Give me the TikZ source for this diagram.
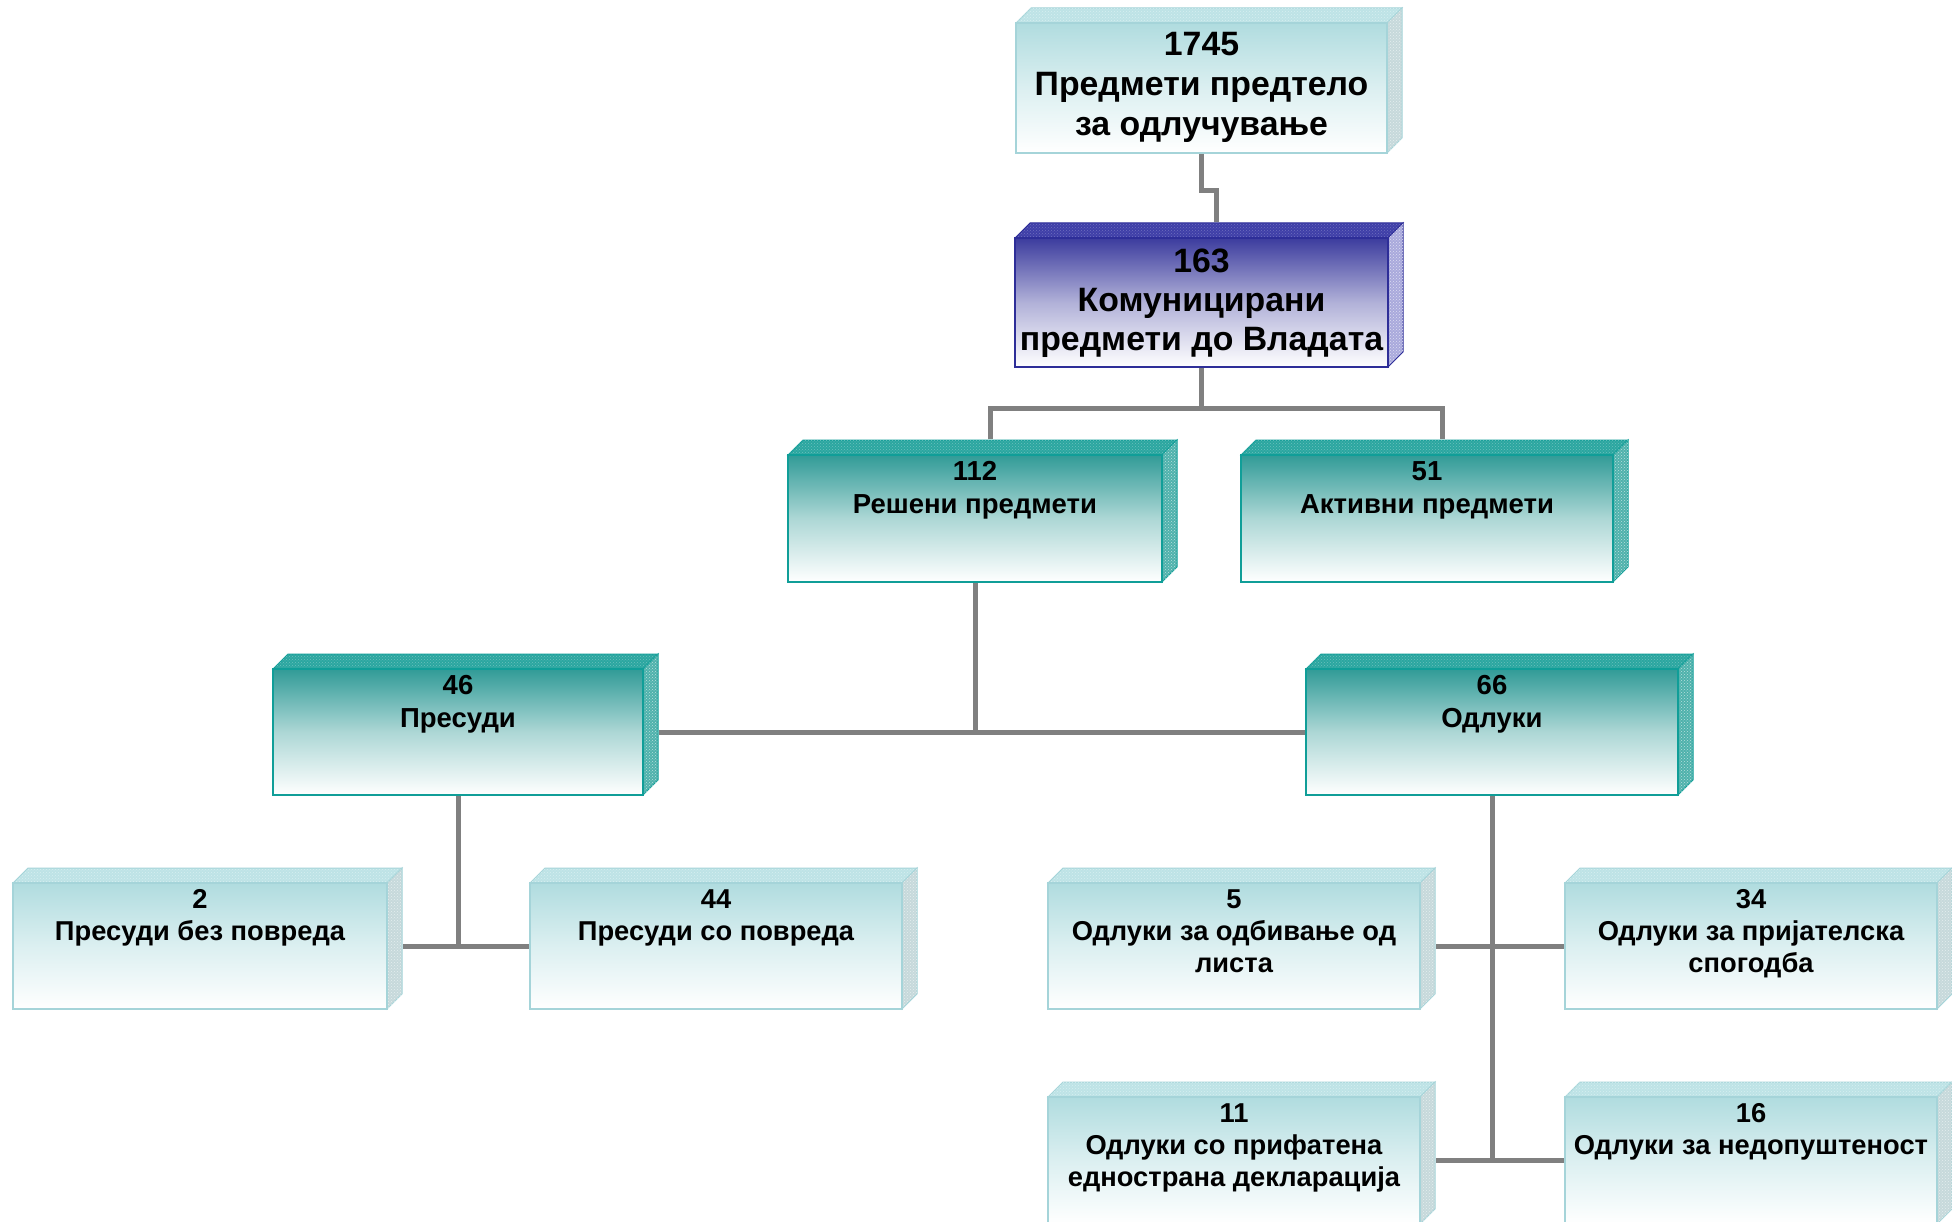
\documentclass[tikz,border=0pt]{standalone}
\usepackage{fontspec}
\setmainfont{Liberation Sans}
\usetikzlibrary{patterns,fit,calc}
\definecolor{lightC}{HTML}{B0DCDF}
\definecolor{lightB}{HTML}{A5D4D9}
\definecolor{lightT}{HTML}{BDE3E6}
\definecolor{lightS}{HTML}{C6D9DB}
\definecolor{blueC}{HTML}{3C3C9E}
\definecolor{blueB}{HTML}{2E2E98}
\definecolor{blueT}{HTML}{3F3FA8}
\definecolor{blueS}{HTML}{A9A9DC}
\definecolor{tealC}{HTML}{319B97}
\definecolor{tealB}{HTML}{109E98}
\definecolor{tealT}{HTML}{2BA6A0}
\definecolor{tealS}{HTML}{4FB2AC}
\definecolor{connC}{HTML}{808080}
\tikzset{
  lightfront/.style={draw=lightB, line width=2pt, top color=lightC, bottom color=white, middle color=lightC!45!white},
  lighttop/.style={fill=lightT, draw=lightB, line width=1pt, postaction={pattern=crosshatch dots, pattern color=lightT!60!white}},
  lightside/.style={fill=lightS, draw=lightB, line width=1pt, postaction={pattern=crosshatch dots, pattern color=lightS!45!white}},
  bluefront/.style={draw=blueB, line width=2pt, top color=blueC, bottom color=white, middle color=blueC!40!white},
  bluetop/.style={fill=blueT, draw=blueB, line width=1pt, postaction={pattern=crosshatch dots, pattern color=blueT!75!white}},
  blueside/.style={fill=blueS, draw=blueB, line width=1pt, postaction={pattern=crosshatch dots, pattern color=blueS!40!white}},
  tealfront/.style={draw=tealB, line width=2pt, top color=tealC, bottom color=white, middle color=tealC!40!white},
  tealtop/.style={fill=tealT, draw=tealB, line width=1pt, postaction={pattern=crosshatch dots, pattern color=tealT!70!white}},
  tealside/.style={fill=tealS, draw=tealB, line width=1pt, postaction={pattern=crosshatch dots, pattern color=tealS!40!white}},
  conn/.style={draw=connC, line width=5pt},
  boxtxt/.style={align=center, inner sep=0pt, anchor=north},
  toptxt/.style={boxtxt, font=\fontsize{33.8}{40}\selectfont\bfseries},
  midtxt/.style={boxtxt, font=\fontsize{33.8}{39}\selectfont\bfseries},
  tealtxt/.style={boxtxt, font=\fontsize{27.5}{33}\selectfont\bfseries},
  lowtxt/.style={boxtxt, font=\fontsize{27.3}{32}\selectfont\bfseries},
}
\newcommand\cubebox[6]{%
  \filldraw[#6top] (#2,#3) -- (#2+15,#3-15) -- (#4+15,#3-15) -- (#4,#3) -- cycle;
  \filldraw[#6side] (#4,#3) -- (#4+15,#3-15) -- (#4+15,#5-15) -- (#4,#5) -- cycle;
  \node[#6front, fit={(#2,#3) (#4,#5)}, inner sep=0pt] (#1) {};
}
\begin{document}
\begin{tikzpicture}[x=1pt,y=-1pt]
\useasboundingbox (0,0) rectangle (1952,1222);
\clip (0,0) rectangle (1952,1222);
\fill[white] (0,0) rectangle (1952,1222);

\cubebox{b1745}{1016}{23}{1387}{153}{light}
\cubebox{b163}{1015}{238}{1388}{367}{blue}
\cubebox{b112}{788}{455}{1162}{582}{teal}
\cubebox{b51}{1241}{455}{1613}{582}{teal}
\cubebox{b46}{273}{669}{643}{795}{teal}
\cubebox{b66}{1306}{669}{1678}{795}{teal}
\cubebox{b2}{13}{883}{387}{1009}{light}
\cubebox{b44}{530}{883}{902}{1009}{light}
\cubebox{b5}{1048}{883}{1420}{1009}{light}
\cubebox{b34}{1565}{883}{1937}{1009}{light}
\cubebox{b11}{1048}{1097}{1420}{1224}{light}
\cubebox{b16}{1565}{1097}{1937}{1224}{light}

% connectors
\draw[conn] (b1745.south) -- ++(0,37) -| ($(b163.north)+(15,-15)$);
\draw[conn] (b163.south) -- ++(0,41) coordinate (j163);
\draw[conn] ($(b112.north)+(15,-15)$) |- (j163) -| ($(b51.north)+(15,-15)$);
\draw[conn] (b112.south) -- (b112.south |- b46.east);
\draw[conn] ($(b46.east)+(15,0)$) -- (b66.west);
\draw[conn] (b46.south) -- (b46.south |- b2.east);
\draw[conn] ($(b2.east)+(15,0)$) -- (b44.west);
\draw[conn] (b66.south) -- (b66.south |- b11.east);
\draw[conn] ($(b5.east)+(15,0)$) -- (b34.west);
\draw[conn] ($(b11.east)+(15,0)$) -- (b16.west);

% texts
\node[toptxt] (t1745) at (1201.5,27) {\strut 1745\\Предмети предтело\\за одлучување};
\node[midtxt] (t163) at (1201.5,244.7) {\strut 163\\Комуницирани\\предмети до Владата};
\node[tealtxt] (t112) at (975,456.9) {\strut 112\\Решени предмети};
\node[tealtxt] (t51) at (1427,456.9) {\strut 51\\Активни предмети};
\node[tealtxt] (t46) at (458,670.9) {\strut 46\\Пресуди};
\node[tealtxt] (t66) at (1492,670.9) {\strut 66\\Одлуки};
\node[lowtxt] (t2) at (200,885.6) {\strut 2\\Пресуди без повреда};
\node[lowtxt] (t44) at (716,885.6) {\strut 44\\Пресуди со повреда};
\node[lowtxt] (t5) at (1234,885.6) {\strut 5\\Одлуки за одбивање од\\листа};
\node[lowtxt] (t34) at (1751,885.6) {\strut 34\\Одлуки за пријателска\\спогодба};
\node[lowtxt] (t11) at (1234,1099.6) {\strut 11\\Одлуки со прифатена\\еднострана декларација};
\node[lowtxt] (t16) at (1751,1099.6) {\strut 16\\Одлуки за недопуштеност};
\end{tikzpicture}
\end{document}
